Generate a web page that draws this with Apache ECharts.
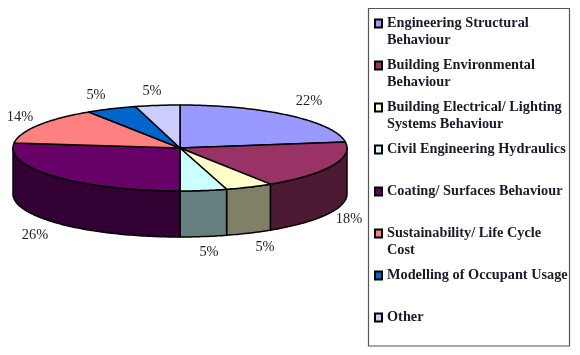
<!DOCTYPE html>
<html><head><meta charset="utf-8">
<style>html,body{margin:0;padding:0;background:#fff}#c{width:580px;height:355px}</style>
<script src="https://cdn.jsdelivr.net/npm/echarts@6/dist/echarts.min.js"></script>
</head><body><div id="c"></div>
<script>
const categories = [
  "Engineering Structural\nBehaviour",
  "Building Environmental\nBehaviour",
  "Building Electrical/ Lighting\nSystems Behaviour",
  "Civil Engineering Hydraulics\n ",
  "Coating/ Surfaces Behaviour\n ",
  "Sustainability/ Life Cycle\nCost",
  "Modelling of Occupant Usage\n ",
  "Other\n "
];
// slice shares as drawn in the picture (%)
const shares = [22.8, 18.1, 4.6, 4.5, 26.9, 13.9, 4.9, 4.3];
// percentages as printed beside the slices
const printedLabels = ["22%", "18%", "5%", "5%", "26%", "14%", "5%", "5%"];
const topColors = ["#9999FF", "#993366", "#FFFFCC", "#CCFFFF", "#660066", "#FF8080", "#0066CC", "#CCCCFF"];
const sideColors = ["#4D4D80", "#4D1A33", "#808066", "#668080", "#330033", "#804040", "#003366", "#666680"];

// layout
const pie = { cx: 180, cy: 148, rx: 167, ry: 43, depth: 46 };
const labelAnchors = [[309,101],[349,219],[265,247],[209,252],[35,235],[20,117],[96,95],[152,91]];
const total = shares.reduce((a, b) => a + b, 0);
const starts = shares.map((_, i) => shares.slice(0, i).reduce((a, b) => a + b, 0) / total * 360);

function pt(deg, dy) {
  const r = deg * Math.PI / 180;
  return [pie.cx + pie.rx * Math.sin(r), pie.cy - pie.ry * Math.cos(r) + (dy || 0)];
}
function arc(a, b, dy) {
  const out = [], n = Math.max(2, Math.ceil(b - a));
  for (let k = 0; k <= n; k++) out.push(pt(a + (b - a) * k / n, dy));
  return out;
}
const edge = { stroke: "#000", lineWidth: 1.5, lineJoin: "round" };

function makeSeries(i) {
  return {
    type: "custom",
    name: categories[i],
    coordinateSystem: "none",
    silent: true,
    animation: false,
    data: [[shares[i]]],
    renderItem: function (params, api) {
      const a = starts[i], b = a + api.value(0) / total * 360;
      const children = [];
      const wa = Math.max(a, 90), wb = Math.min(b, 270);
      if (wb > wa) {
        children.push({
          type: "polygon",
          shape: { points: arc(wa, wb, 0).concat(arc(wa, wb, pie.depth).reverse()) },
          style: Object.assign({ fill: sideColors[i] }, edge)
        });
      }
      children.push({
        type: "polygon",
        shape: { points: [[pie.cx, pie.cy]].concat(arc(a, b, 0)) },
        style: Object.assign({ fill: topColors[i] }, edge)
      });
      children.push({
        type: "text",
        style: {
          text: printedLabels[i],
          x: labelAnchors[i][0], y: labelAnchors[i][1],
          align: "center", verticalAlign: "middle",
          font: "14.4px 'Liberation Serif'", fill: "#222"
        }
      });
      return { type: "group", children: children };
    }
  };
}

const chart = echarts.init(document.getElementById("c"), null, { renderer: "canvas" });
chart.setOption({
  animation: false,
  backgroundColor: "#fff",
  graphic: [{
    type: "rect", z: -1,
    shape: { x: 368.5, y: 8.5, width: 201, height: 337.5 },
    style: { fill: "#fff", stroke: "#555", lineWidth: 1.2 }
  }],
  legend: {
    orient: "vertical",
    left: 374, top: 14,
    width: 200, height: 340,
    padding: 0,
    itemWidth: 7, itemHeight: 34, itemGap: 6,
    selectedMode: false,
    icon: "path://M0 0M0 4.5H7V12.5H0ZM7 34",
    textStyle: {
      fontFamily: "Liberation Serif", fontWeight: "bold", fontSize: 14.3,
      color: "#1a1a2a", lineHeight: 17
    },
    data: categories.map((n, i) => ({
      name: n,
      itemStyle: { color: topColors[i], borderColor: "#000", borderWidth: 2 }
    }))
  },
  series: categories.map((_, i) => makeSeries(i))
});
</script></body></html>
